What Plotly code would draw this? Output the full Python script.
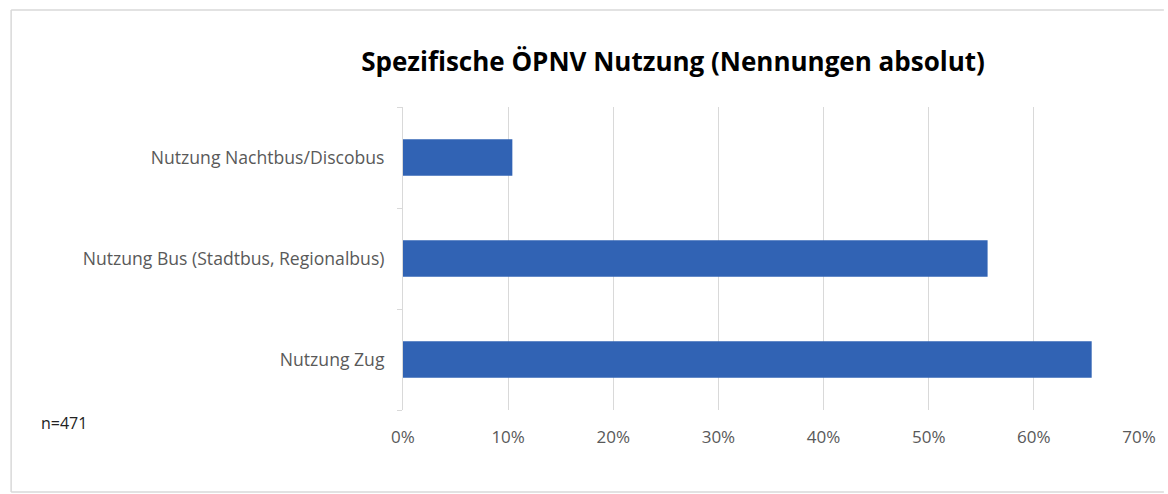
import plotly.graph_objects as go

categories = ["Nutzung Zug", "Nutzung Bus (Stadtbus, Regionalbus)", "Nutzung Nachtbus/Discobus"]
values = [0.655, 0.556, 0.104]
x_ticks = [0, 0.1, 0.2, 0.3, 0.4, 0.5, 0.6, 0.7]
title_text = "Spezifische ÖPNV Nutzung (Nennungen absolut)"
note_text = "n=471"

W, H = 1168, 494
L, R, T, B = 403, 25, 107, 84
pw, ph = W - L - R, H - T - B

def px_x(px):
    return (px - L) / pw

def px_y(py):
    return (H - B - py) / ph

fig = go.Figure(go.Bar(
    x=values, y=categories, orientation="h",
    marker=dict(color="#3163B4", line=dict(width=0)),
    hoverinfo="skip",
))

border = dict(color="#d9d9d9", width=1.5)
fig.update_layout(
    width=W, height=H,
    margin=dict(l=L, r=R, t=T, b=B),
    paper_bgcolor="white", plot_bgcolor="white",
    bargap=0.64,
    showlegend=False,
    font=dict(family="Open Sans", color="#595959", size=14),
    title=dict(text=title_text, x=673 / W, xanchor="center", y=1 - 62 / H, yanchor="middle",
               font=dict(family="Open Sans", size=26, color="#000000", weight="bold")),
    shapes=[
        dict(type="line", xref="paper", yref="paper", x0=px_x(9), x1=px_x(1168), y0=px_y(10), y1=px_y(10), line=border, layer="below"),
        dict(type="line", xref="paper", yref="paper", x0=px_x(9), x1=px_x(9), y0=px_y(10), y1=px_y(492), line=border, layer="below"),
        dict(type="line", xref="paper", yref="paper", x0=px_x(9), x1=px_x(1168), y0=px_y(492), y1=px_y(492), line=border, layer="below"),
    ],
    annotations=[dict(text=note_text, xref="paper", yref="paper", x=px_x(37), y=px_y(423),
                      xanchor="left", yanchor="middle", showarrow=False,
                      font=dict(family="Open Sans", size=16, color="#222222"))],
)

fig.update_xaxes(range=[0, 0.7], tickvals=x_ticks, tickformat=".0%",
                 showgrid=True, gridcolor="#d9d9d9", gridwidth=1,
                 showline=False, zeroline=False, ticks="", ticklabelstandoff=15,
                 tickfont=dict(size=17, color="#595959"))
fig.update_yaxes(categoryorder="array", categoryarray=categories,
                 showline=True, linecolor="#d9d9d9", linewidth=1,
                 ticks="outside", tickson="boundaries", ticklen=5, tickcolor="#d9d9d9",
                 showgrid=False, zeroline=False, ticklabelstandoff=14,
                 tickfont=dict(size=17.6, color="#595959"))

fig.write_html("out.html", config={"displayModeBar": False},
               post_script="document.body.style.margin='0';document.body.style.padding='0';")
